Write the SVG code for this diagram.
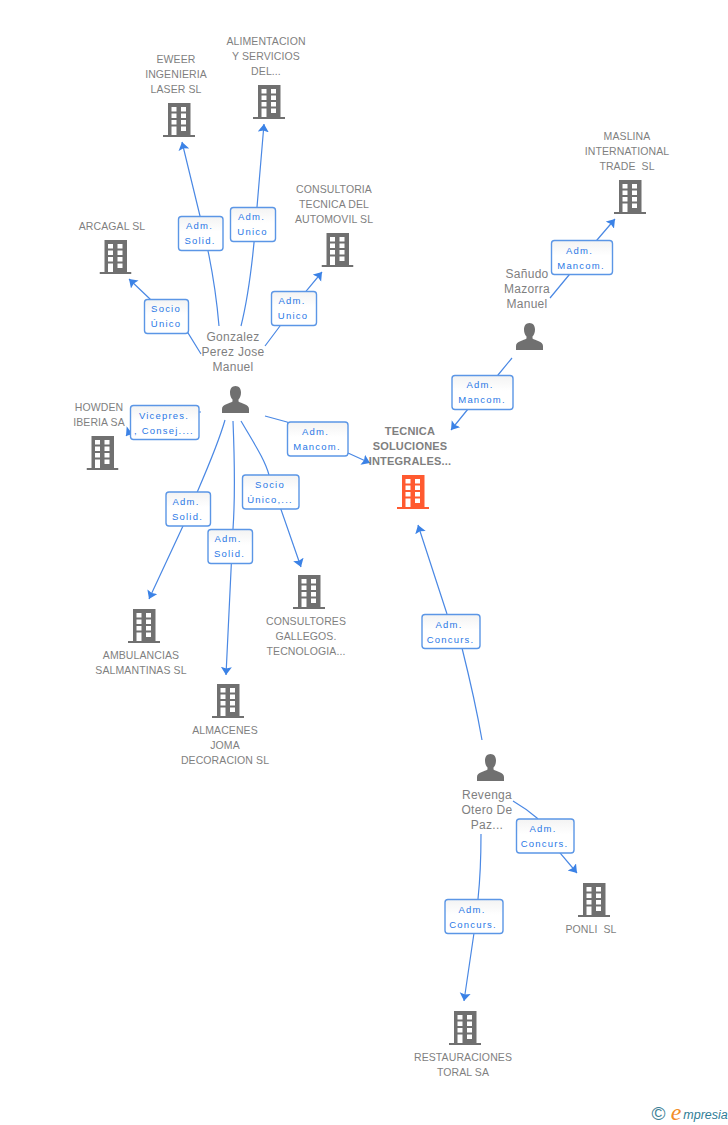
<svg xmlns="http://www.w3.org/2000/svg" xmlns:xlink="http://www.w3.org/1999/xlink" width="728" height="1125" viewBox="0 0 728 1125">
<style>
text{font-family:"Liberation Sans",Arial,sans-serif;text-anchor:middle}
.n{font-size:10.5px;fill:#7f7f7f;letter-spacing:.1px}
.p{font-size:12px;fill:#7f7f7f;letter-spacing:.3px}
.c{font-size:11px;font-weight:bold;fill:#7f7f7f;letter-spacing:.2px}
.e{font-size:9.5px;fill:#2a78e6;letter-spacing:1.2px}
.b{fill:url(#g);stroke:#5b96e6;stroke-width:1.4}
.l{fill:none;stroke:#4a88e4;stroke-width:1.2}
.a{marker-end:url(#m)}
</style>
<defs>
<linearGradient id="g" x1="0" y1="0" x2="0" y2="1"><stop offset="0" stop-color="#f3f3f3"/><stop offset=".45" stop-color="#fff"/><stop offset="1" stop-color="#fff"/></linearGradient>
<marker id="m" markerUnits="userSpaceOnUse" markerWidth="12" markerHeight="12" refX="8" refY="5.500" orient="auto"><path d="M0 0L8 5.500L0 11L1.500 5.500Z" fill="#3b82e6"/></marker>
<symbol id="bld" width="32" height="34" viewBox="0 0 32 34"><path fill-rule="evenodd" fill="currentColor" d="M5 0H27.500V32H32V34H0V32H5ZM8.500 4V8.500H13.500V4ZM18 4V8.500H23V4ZM8.500 10.500V15H13.500V10.500ZM18 10.500V15H23V10.500ZM8.500 17V21.500H13.500V17ZM18 17V21.500H23V17ZM8.500 23.500V32H13.500V23.500ZM18 23.500V28H23V23.500Z"/></symbol>
<symbol id="per" width="27" height="27" viewBox="0 0 27 27"><path fill="#707070" d="M13.500 0C17 0 19 2.800 19 6.500C19 9.500 18 12 16.500 13.500V15.500C19 17.500 27 18 27 23V27H0V23C0 18 8 17.500 10.500 15.500V13.500C9 12 8 9.500 8 6.500C8 2.800 10 0 13.500 0Z"/></symbol>
</defs>
<g id="connectors">
<path class="l a" d="M219 326C216 290 210 255 200 216L182 142"/>
<path class="l a" d="M241 326C250 290 254 250 257 207L264 124"/>
<path class="l a" d="M265 346L307 290L322 272"/>
<path class="l a" d="M201 354L188 333L150 299L129 279"/>
<path class="l a" d="M201 412L199 412L130 431L126 436"/>
<path class="l a" d="M265 416L287 422L348 453L370 463"/>
<path class="l a" d="M225 420C215 455 195 495 183 526L149 599"/>
<path class="l a" d="M233 421C235 470 235 500 233 529L226 675"/>
<path class="l a" d="M241 421C255 445 265 460 269 475L301 567"/>
<path class="l a" d="M550 298L569 275L597 240L615 219"/>
<path class="l a" d="M512 358L498 375L468 409L451 430"/>
<path class="l a" d="M482 740C475 700 470 680 462 648L447 614L418 525"/>
<path class="l a" d="M513 801C525 808 530 812 537 818L560 853L577 873"/>
<path class="l a" d="M481 834C481 860 480 880 478 899L474 933L464 1001"/>
</g>
<g id="edge-labels">
<g><rect class="b" x="178.500" y="216.500" width="44.500" height="34" rx="3"/><text class="e" x="199.500" y="229">Adm.</text><text class="e" x="200" y="244">Solid.</text></g>
<g><rect class="b" x="230.500" y="207.500" width="45" height="34" rx="3"/><text class="e" x="251.500" y="220">Adm.</text><text class="e" x="252.500" y="235">Unico</text></g>
<g><rect class="b" x="271.500" y="291.500" width="45" height="34" rx="3"/><text class="e" x="292" y="304">Adm.</text><text class="e" x="293" y="319">Unico</text></g>
<g><rect class="b" x="144.500" y="299.500" width="44" height="34" rx="3"/><text class="e" x="166" y="312">Socio</text><text class="e" x="166" y="327">Único</text></g>
<g><rect class="b" x="130.500" y="405.500" width="68.500" height="34" rx="3"/><text class="e" x="164" y="419">Vicepres.</text><text class="e" x="164" y="434">, Consej....</text></g>
<g><rect class="b" x="287.500" y="422" width="60.500" height="34" rx="3"/><text class="e" x="315.500" y="435">Adm.</text><text class="e" x="317" y="450">Mancom.</text></g>
<g><rect class="b" x="166" y="492" width="44.500" height="34" rx="3"/><text class="e" x="186" y="505">Adm.</text><text class="e" x="187.500" y="520">Solid.</text></g>
<g><rect class="b" x="208" y="529.500" width="44.500" height="34" rx="3"/><text class="e" x="228" y="542">Adm.</text><text class="e" x="229.500" y="557">Solid.</text></g>
<g><rect class="b" x="242.500" y="475" width="56.500" height="34" rx="3"/><text class="e" x="270" y="488">Socio</text><text class="e" x="270" y="503">Único,...</text></g>
<g><rect class="b" x="551.500" y="240.500" width="61" height="34" rx="3"/><text class="e" x="579.500" y="254">Adm.</text><text class="e" x="581" y="269">Mancom.</text></g>
<g><rect class="b" x="452" y="375.500" width="61" height="34" rx="3"/><text class="e" x="480" y="388">Adm.</text><text class="e" x="482" y="403">Mancom.</text></g>
<g><rect class="b" x="422" y="614.500" width="58" height="34" rx="3"/><text class="e" x="449" y="628">Adm.</text><text class="e" x="450.500" y="643">Concurs.</text></g>
<g><rect class="b" x="516.500" y="819" width="57.500" height="34" rx="3"/><text class="e" x="543" y="832">Adm.</text><text class="e" x="544.500" y="847">Concurs.</text></g>
<g><rect class="b" x="445" y="899.500" width="58" height="34" rx="3"/><text class="e" x="472" y="913">Adm.</text><text class="e" x="473" y="928">Concurs.</text></g>
</g>
<g id="eweer" color="#707070"><text class="n" x="176" y="63">EWEER</text><text class="n" x="176" y="78">INGENIERIA</text><text class="n" x="176" y="93">LASER SL</text><use href="#bld" x="163" y="103"/></g>
<g id="alimentacion" color="#707070"><text class="n" x="266" y="45">ALIMENTACION</text><text class="n" x="266" y="60">Y SERVICIOS</text><text class="n" x="266" y="75">DEL...</text><use href="#bld" x="253" y="85"/></g>
<g id="consultoria" color="#707070"><text class="n" x="334" y="193">CONSULTORIA</text><text class="n" x="334" y="208">TECNICA DEL</text><text class="n" x="334" y="223">AUTOMOVIL SL</text><use href="#bld" x="321.500" y="233"/></g>
<g id="arcagal" color="#707070"><text class="n" x="112" y="230">ARCAGAL SL</text><use href="#bld" x="99.500" y="240"/></g>
<g id="howden" color="#707070"><text class="n" x="99" y="411">HOWDEN</text><text class="n" x="99" y="426">IBERIA SA</text><use href="#bld" x="86.500" y="436"/></g>
<g id="tecnica" color="#ff5a30"><text class="c" x="410" y="435">TECNICA</text><text class="c" x="410" y="450">SOLUCIONES</text><text class="c" x="410" y="465">INTEGRALES...</text><use href="#bld" x="397" y="475"/></g>
<g id="maslina" color="#707070"><text class="n" x="627" y="140">MASLINA</text><text class="n" x="627" y="155">INTERNATIONAL</text><text class="n" x="627" y="170">TRADE &#160;SL</text><use href="#bld" x="614" y="180"/></g>
<g id="ponli" color="#707070"><use href="#bld" x="578" y="883"/><text class="n" x="591" y="933">PONLI &#160;SL</text></g>
<g id="restauraciones" color="#707070"><use href="#bld" x="449" y="1011"/><text class="n" x="463" y="1061">RESTAURACIONES</text><text class="n" x="463" y="1076">TORAL SA</text></g>
<g id="ambulancias" color="#707070"><use href="#bld" x="128" y="609"/><text class="n" x="141" y="659">AMBULANCIAS</text><text class="n" x="141" y="674">SALMANTINAS SL</text></g>
<g id="almacenes" color="#707070"><use href="#bld" x="212" y="684"/><text class="n" x="225" y="734">ALMACENES</text><text class="n" x="225" y="749">JOMA</text><text class="n" x="225" y="764">DECORACION SL</text></g>
<g id="consultores" color="#707070"><use href="#bld" x="293" y="575"/><text class="n" x="306" y="625">CONSULTORES</text><text class="n" x="306" y="640">GALLEGOS.</text><text class="n" x="306" y="655">TECNOLOGIA...</text></g>
<g id="gonzalez"><text class="p" x="233" y="341">Gonzalez</text><text class="p" x="233" y="356">Perez Jose</text><text class="p" x="233" y="371">Manuel</text><use href="#per" x="222" y="386"/></g>
<g id="sanudo"><text class="p" x="527" y="278">Sañudo</text><text class="p" x="527" y="293">Mazorra</text><text class="p" x="527" y="308">Manuel</text><use href="#per" x="516" y="323"/></g>
<g id="revenga"><use href="#per" x="477" y="754"/><text class="p" x="487" y="799">Revenga</text><text class="p" x="487" y="814">Otero De</text><text class="p" x="487" y="829">Paz...</text></g>
<g id="logo"><text x="658.500" y="1120" style="font-size:19px;fill:#3d7f96">©</text><text x="676" y="1120" style="font-family:'Liberation Serif',serif;font-size:24px;font-style:italic;fill:#f28c28">e</text><text x="705.500" y="1119" style="font-size:12.500px;font-style:italic;fill:#2f7d96">mpresia</text></g>
</svg>
